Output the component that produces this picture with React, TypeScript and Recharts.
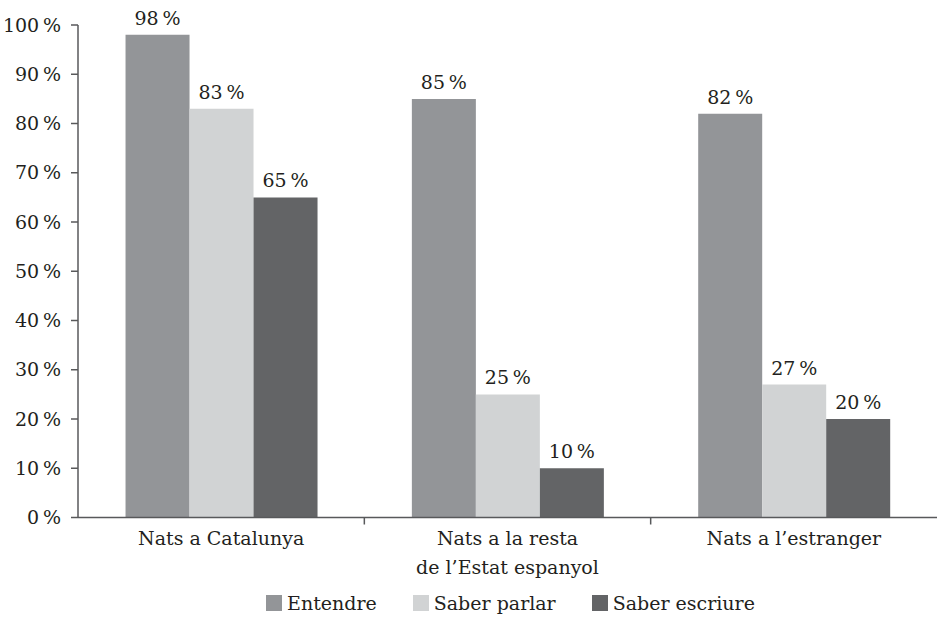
import React from "react";
import {
  BarChart,
  Bar,
  XAxis,
  YAxis,
  LabelList,
  Legend,
} from "recharts";

const categories = [
  "Nats a Catalunya",
  "Nats a la resta\nde l’Estat espanyol",
  "Nats a l’estranger",
];
const entendre = [98, 85, 82];
const saberParlar = [83, 25, 27];
const saberEscriure = [65, 10, 20];
const yTicks = [0, 10, 20, 30, 40, 50, 60, 70, 80, 90, 100];

const SERIES = [
  { key: "entendre", name: "Entendre", color: "#939598" },
  { key: "parlar", name: "Saber parlar", color: "#d1d3d4" },
  { key: "escriure", name: "Saber escriure", color: "#636466" },
];

const data = categories.map((c, i) => ({
  name: c,
  entendre: entendre[i],
  parlar: saberParlar[i],
  escriure: saberEscriure[i],
}));

const W = 937;
const H = 620;
const LEFT = 78;
const BAND = (W - LEFT) / categories.length;
const FONT = "DejaVu Serif, serif";
const INK = "#231f20";
const AXIS = "#58595b";

const pct = (v: number) => `${v}\u2009%`;

// category label plus a small tick on the boundary to the next group
function CategoryTick(props: any) {
  const { x, y, payload, index } = props;
  const lines = String(payload.value).split("\n");
  return (
    <g>
      {index < categories.length - 1 && (
        <line
          x1={x + BAND / 2}
          x2={x + BAND / 2}
          y1={y}
          y2={y + 7}
          stroke={AXIS}
          strokeWidth={1.5}
        />
      )}
      <text
        x={x}
        y={y}
        textAnchor="middle"
        fill={INK}
        fontSize={19}
        fontFamily={FONT}
      >
        {lines.map((l, i) => (
          <tspan key={i} x={x} dy={i === 0 ? 27 : 29}>
            {l}
          </tspan>
        ))}
      </text>
    </g>
  );
}

function LegendBox() {
  return (
    <div
      style={{
        display: "flex",
        justifyContent: "center",
        gap: 36,
        paddingLeft: 84,
        fontFamily: FONT,
        fontSize: 19,
        color: INK,
      }}
    >
      {SERIES.map((s) => (
        <div key={s.key} style={{ display: "flex", alignItems: "center" }}>
          <span
            style={{
              display: "inline-block",
              width: 16,
              height: 16,
              background: s.color,
              marginRight: 5,
            }}
          />
          <span>{s.name}</span>
        </div>
      ))}
    </div>
  );
}

export default function App() {
  return (
    <div style={{ position: "absolute", left: 0, top: 0, width: W, height: H }}>
      <BarChart
        width={W}
        height={H}
        data={data}
        margin={{ top: 25, right: 0, left: 0, bottom: 0 }}
        barCategoryGap="16.6%"
        barGap={0}
      >
        <YAxis
          width={LEFT}
          domain={[0, 100]}
          ticks={yTicks}
          interval={0}
          tickFormatter={pct}
          tickSize={7}
          tickMargin={10}
          axisLine={{ stroke: AXIS, strokeWidth: 1.5 }}
          tickLine={{ stroke: AXIS, strokeWidth: 1.5 }}
          tick={{ fill: INK, fontSize: 19, fontFamily: FONT }}
        />
        <XAxis
          dataKey="name"
          height={102.5}
          interval={0}
          tickSize={0}
          tickMargin={0}
          tickLine={false}
          axisLine={{ stroke: AXIS, strokeWidth: 1.5 }}
          tick={<CategoryTick />}
        />
        <Legend
          verticalAlign="middle"
          align="center"
          wrapperStyle={{ top: 592, left: 0, width: W }}
          content={() => <LegendBox />}
        />
        {SERIES.map((s) => (
          <Bar
            key={s.key}
            dataKey={s.key}
            name={s.name}
            fill={s.color}
            isAnimationActive={false}
          >
            <LabelList
              dataKey={s.key}
              position="top"
              offset={10}
              formatter={(v: any) => pct(Number(v))}
              fill={INK}
              fontSize={19}
              fontFamily={FONT}
            />
          </Bar>
        ))}
      </BarChart>
    </div>
  );
}
